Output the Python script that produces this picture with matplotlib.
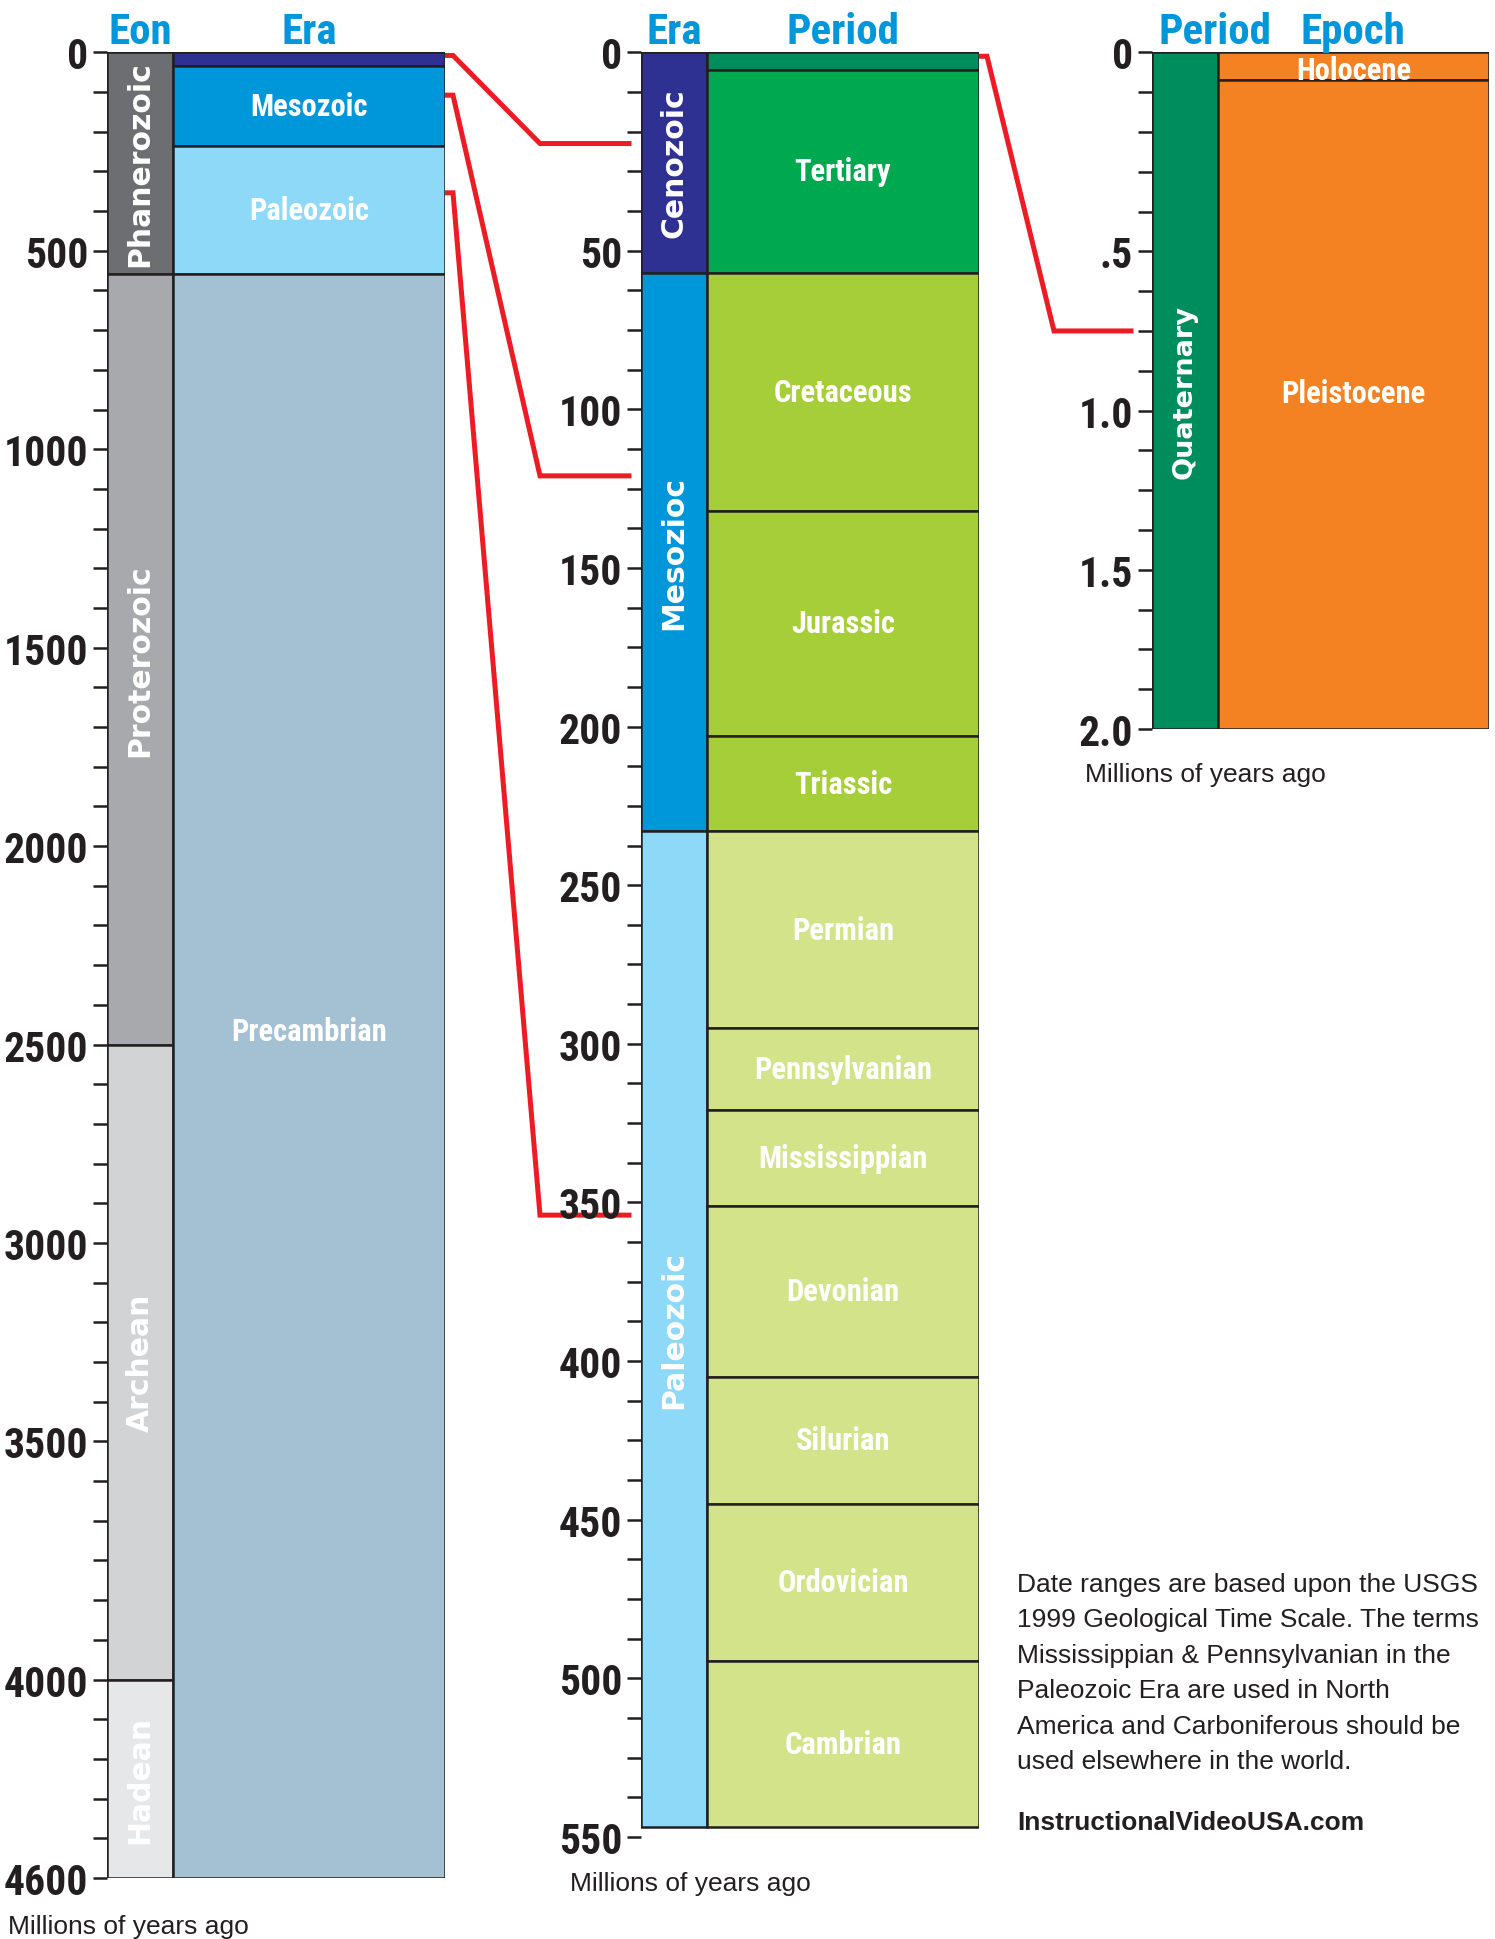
import os
import numpy as np
import matplotlib
matplotlib.use("Agg")
import matplotlib.pyplot as plt
from matplotlib import font_manager as fm
from matplotlib.lines import Line2D
from matplotlib.transforms import blended_transform_factory

W, H = 1495, 1940

# ---- data (millions of years ago, as drawn) ----
eon_names = ["Phanerozoic", "Proterozoic", "Archean", "Hadean"]
eon_bounds = [0, 559, 2500, 4000, 4600]
eon_colors = ["#6D6E71", "#A7A9AC", "#D1D3D4", "#E6E7E8"]

era_names = ["", "Mesozoic", "Paleozoic", "Precambrian"]
era_bounds = [0, 34, 237, 559, 4600]
era_colors = ["#2E3192", "#0096DA", "#8ED8F8", "#A3C1D3"]

mid_era_names = ["Cenozoic", "Mesozioc", "Paleozoic"]
mid_era_bounds = [0, 57, 233, 547]
mid_era_colors = ["#2E3192", "#0096DA", "#8ED8F8"]

period_names = ["", "Tertiary", "Cretaceous", "Jurassic", "Triassic", "Permian",
                "Pennsylvanian", "Mississippian", "Devonian", "Silurian",
                "Ordovician", "Cambrian"]
period_bounds = [0, 4.5, 57, 132, 203, 233, 295, 321, 351, 405, 445, 494.5, 547]
period_colors = ["#008D5E", "#00A94F"] + ["#A6CE39"] * 3 + ["#D3E38A"] * 7

quat_names = ["Quaternary"]
quat_bounds = [0, 2.0]
quat_colors = ["#008D5E"]

epoch_names = ["Holocene", "Pleistocene"]
epoch_bounds = [0, 0.07, 2.0]
epoch_colors = ["#F48222", "#F48222"]

# axis labels and the tick number each label sits on (ticks are evenly spaced)
left_labels = [0, 500, 1000, 1500, 2000, 2500, 3000, 3500, 4000, 4600]
left_index = [0, 5, 10, 15, 20, 25, 30, 35, 41, 46]
mid_labels = [0, 50, 100, 150, 200, 250, 300, 350, 400, 450, 500, 550]
mid_index = [0, 5, 9, 13, 17, 21, 25, 29, 33, 37, 41, 45]
right_labels = [0, 0.5, 1.0, 1.5, 2.0]
right_label_text = ["0", ".5", "1.0", "1.5", "2.0"]
right_index = [0, 5, 9, 13, 17]

# red zoom connectors (source value, target value)
left_to_mid = [(8, 23), (108, 121), (354, 354)]
mid_to_right = [(1, 0.75)]

SANS = ["Liberation Sans", "DejaVu Sans"]
WIDE = ["DejaVu Sans"]
BLUE = "#0096DA"
INK = "#231F20"
RED = "#ED1C24"

# a few labels sit off their band centre in the original (pixels, up)
label_lift = {"Precambrian": 45, "Pleistocene": 12, "Holocene": -4}


# pick a condensed bold sans face if one is installed
def find_narrow():
    prefs = ["liberation sans narrow", "roboto condensed", "open sans condensed",
             "noto sans condensed", "dejavu sans condensed", "dejavu sans"]
    found = []
    for f in fm.fontManager.ttflist:
        fn = os.path.basename(f.fname).lower()
        name = f.name.lower()
        narrow = ("narrow" in fn or "condensed" in fn or "narrow" in name
                  or "condensed" in name or str(f.stretch) in ("condensed", "semi-condensed"))
        w = f.weight if isinstance(f.weight, int) else {"bold": 700}.get(str(f.weight), 400)
        bold = w == 700 or ("bold" in fn and "semibold" not in fn and "extrabold" not in fn)
        if not (narrow and bold) or "mono" in fn or "serif" in fn.replace("sans", ""):
            continue
        if "italic" in fn or "oblique" in fn:
            continue
        key = fn.replace("-", " ").replace("_", " ")
        rank = len(prefs)
        for i, p in enumerate(prefs):
            if p in key or p in name + " " + key:
                rank = i
                break
        found.append((rank, f.fname))
    found.sort()
    return found[0][1] if found else None


narrow_path = find_narrow()
if narrow_path:
    NFONT = fm.FontProperties(fname=narrow_path)
    NSCALE = 1.0
else:
    NFONT = fm.FontProperties(family=SANS, weight="bold")
    NSCALE = 0.8


def nfont(size):
    p = NFONT.copy()
    p.set_size(size * NSCALE)
    return p


def piecewise(values, index):
    v = np.asarray(values, float)
    t = np.asarray(index, float)

    def interp(y, a, b):
        y = np.asarray(y, float)
        out = np.interp(y, a, b)
        lo = b[0] + (y - a[0]) * (b[1] - b[0]) / (a[1] - a[0])
        hi = b[-1] + (y - a[-1]) * (b[-1] - b[-2]) / (a[-1] - a[-2])
        return np.where(y < a[0], lo, np.where(y > a[-1], hi, out))

    return (lambda y: interp(y, v, t)), (lambda y: interp(y, t, v))


def make_axes(fig, x0, x1, y0, y1):
    ax = fig.add_axes([x0 / W, 1 - y1 / H, (x1 - x0) / W, (y1 - y0) / H])
    ax.patch.set_alpha(0)
    for s in ax.spines.values():
        s.set_visible(False)
    ax.set_xlim(0, 1)
    ax.set_xticks([])
    return ax


def setup_scale(ax, labels, index, texts, top):
    fwd, inv = piecewise(labels, index)
    ax.set_yscale("function", functions=(fwd, inv))
    ax.set_ylim(top, 0)
    ax.set_yticks(labels)
    ax.set_yticklabels(texts, color=INK)
    for lab in ax.get_yticklabels():
        lab.set_fontproperties(nfont(30))
    minor = [inv(i) for i in range(index[-1] + 1) if i not in index]
    ax.set_yticks(minor, minor=True)
    ax.tick_params(axis="y", which="both", direction="out", length=10, width=1.8,
                   color=INK, pad=3.5)
    return fwd, inv


def draw_column(ax, fwd, inv, x0, x1, bounds, colors, names, vertical, fsize):
    starts = np.array(bounds[:-1])
    ends = np.array(bounds[1:])
    ax.bar((x0 + x1) / 2, ends - starts, bottom=starts, width=x1 - x0, color=colors,
           edgecolor=INK, linewidth=1.8, zorder=2)
    for name, a, b in zip(names, starts, ends):
        if not name:
            continue
        mid = float(inv((fwd(a) + fwd(b)) / 2))
        lift = label_lift.get(name, 0) * 72 / 100
        if vertical:
            ax.text((x0 + x1) / 2, mid, name, rotation=90, ha="center", va="center",
                    color="white", fontsize=fsize, fontweight="bold", fontfamily=WIDE, zorder=3)
        else:
            ax.annotate(name, xy=((x0 + x1) / 2, mid), xytext=(0, lift),
                        textcoords="offset points", ha="center", va="center",
                        color="white", fontproperties=nfont(fsize), zorder=3)


def header(ax, x, text, ha="center"):
    ax.annotate(text, xy=(x, 1), xycoords=("data", "axes fraction"), xytext=(0, 7),
                textcoords="offset points", ha=ha, va="baseline", color=BLUE,
                fontproperties=nfont(31))


fig = plt.figure(figsize=(W / 100, H / 100), dpi=100)

split = 0.195

# left panel
axL = make_axes(fig, 107, 445, 53.3, 1879)
fL, iL = setup_scale(axL, left_labels, left_index, [str(v) for v in left_labels], 4600)
draw_column(axL, fL, iL, 0, split, eon_bounds, eon_colors, eon_names, True, 21.5)
draw_column(axL, fL, iL, split, 1, era_bounds, era_colors, era_names, False, 22)
header(axL, split / 2, "Eon")
header(axL, (split + 1) / 2, "Era")

# middle panel
axM = make_axes(fig, 641, 979, 53.3, 1838)
fM, iM = setup_scale(axM, mid_labels, mid_index, [str(v) for v in mid_labels], 550)
draw_column(axM, fM, iM, 0, split, mid_era_bounds, mid_era_colors, mid_era_names, True, 21.5)
draw_column(axM, fM, iM, split, 1, period_bounds, period_colors, period_names, False, 22)
header(axM, split / 2, "Era")
header(axM, (split + 1) / 2, "Period")

# right panel
axR = make_axes(fig, 1152, 1489, 53.3, 730)
fR, iR = setup_scale(axR, right_labels, right_index, right_label_text, 2.0)
draw_column(axR, fR, iR, 0, split, quat_bounds, quat_colors, quat_names, True, 19.5)
draw_column(axR, fR, iR, split, 1, epoch_bounds, epoch_colors, epoch_names, False, 22)
header(axR, 0.02, "Period", ha="left")
header(axR, (split + 1) / 2, "Epoch")

# red connectors
to_fig = fig.transFigure.inverted()


def connector(src, dst, a, b, xs, xc, xe):
    ys = blended_transform_factory(src.transAxes, src.transData).transform((1, a))[1]
    ye = blended_transform_factory(dst.transAxes, dst.transData).transform((0, b))[1]
    pts = np.array([[xs, ys], [xs + 8, ys], [xc, ye], [xe, ye]])
    px = to_fig.transform(pts)
    fig.add_artist(Line2D(px[:, 0], px[:, 1], transform=fig.transFigure, color=RED,
                          linewidth=3.6, solid_joinstyle="miter", zorder=-1))


for a, b in left_to_mid:
    connector(axL, axM, a, b, 445, 540, 629)
for a, b in mid_to_right:
    connector(axM, axR, a, b, 979, 1054, 1131)

# captions
for x, y in [(8, 1927), (570, 1884), (1085, 775)]:
    fig.text(x / W, 1 - y / H, "Millions of years ago", ha="left", va="center",
             fontsize=19, fontfamily=SANS, color=INK)

note = ("Date ranges are based upon the USGS\n"
        "1999 Geological Time Scale. The terms\n"
        "Mississippian & Pennsylvanian in the\n"
        "Paleozoic Era are used in North\n"
        "America and Carboniferous should be\n"
        "used elsewhere in the world.")
fig.text(1017 / W, 1 - 1573 / H, note, ha="left", va="top", fontsize=19,
         fontfamily=SANS, color=INK, linespacing=1.6)
fig.text(1017 / W, 1 - 1823 / H, "InstructionalVideoUSA.com", ha="left", va="center",
         fontsize=19, fontweight="bold", fontfamily=SANS, color=INK)

fig.savefig("out.png", dpi=100, facecolor="white")
